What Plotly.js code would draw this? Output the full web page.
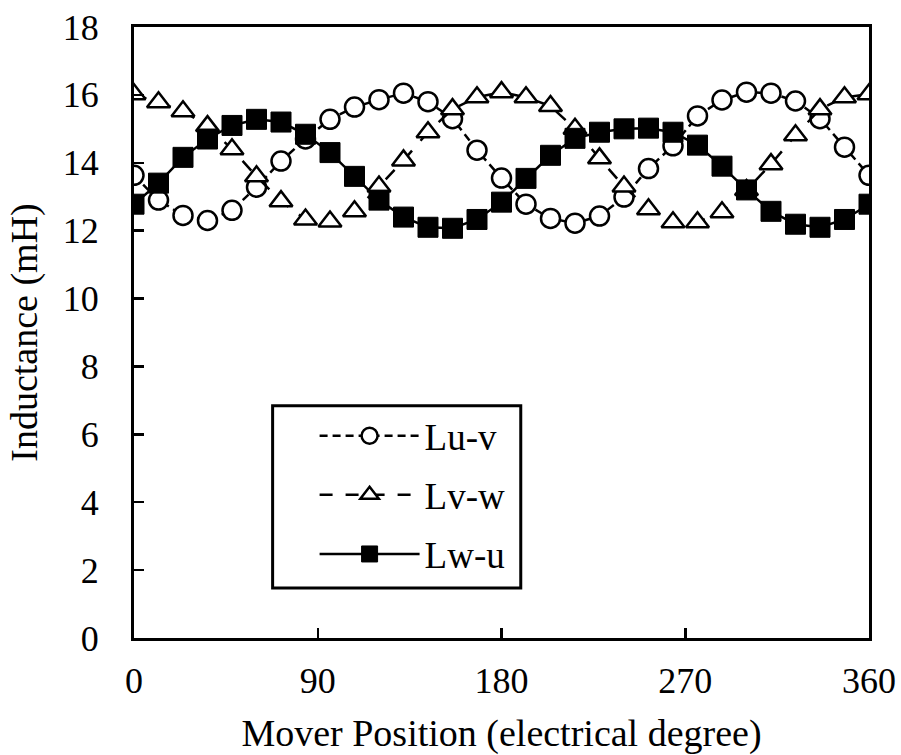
<!DOCTYPE html>
<html>
<head>
<meta charset="utf-8">
<script src="https://cdn.plot.ly/plotly-3.0.1.min.js"></script>
<style>html,body{margin:0;padding:0;background:#fff;}#chart{width:901px;height:755px;}</style>
</head>
<body>
<div id="chart"></div>
<script>
const position = [0,12,24,36,48,60,72,84,96,108,120,132,144,156,168,180,192,204,216,228,240,252,264,276,288,300,312,324,336,348,360];
const Luv = [13.63,12.9,12.45,12.3,12.6,13.28,14.05,14.7,15.28,15.64,15.86,16.05,15.8,15.3,14.37,13.55,12.78,12.36,12.22,12.43,12.99,13.83,14.5,15.38,15.85,16.08,16.05,15.82,15.3,14.46,13.63];
const Lvw = [16.02,15.78,15.52,15.08,14.4,13.6,12.87,12.33,12.27,12.57,13.3,14.07,14.9,15.58,15.93,16.08,15.93,15.67,15.0,14.13,13.3,12.63,12.25,12.25,12.54,13.2,13.96,14.81,15.58,15.93,16.02];
const Lwu = [12.78,13.4,14.16,14.7,15.1,15.28,15.2,14.84,14.3,13.6,12.9,12.4,12.1,12.07,12.33,12.84,13.54,14.22,14.72,14.9,15.0,15.02,14.9,14.52,13.9,13.2,12.57,12.19,12.1,12.33,12.78];
const seriesNames = ['Lu-v','Lv-w','Lw-u'];
const xTicks = [0,90,180,270,360];
const yTicks = [0,2,4,6,8,10,12,14,16,18];

const font = 'Liberation Serif, Times New Roman, serif';
const traces = [
  {x: position, y: Luv, name: seriesNames[0], legendgroup: 'a', mode: 'lines+markers',
   line: {color: '#000', width: 2.5, dash: '8px,5px'},
   marker: {symbol: 'circle', size: 19, color: '#fff', line: {color: '#000', width: 2.5}}},
  {x: position, y: Lvw, name: seriesNames[1], legendgroup: 'b', mode: 'lines+markers',
   line: {color: '#000', width: 2.5, dash: '13px,13px'},
   marker: {symbol: 'triangle-up', size: 20, color: '#fff', line: {color: '#000', width: 2.5}}},
  {x: position, y: Lwu, name: seriesNames[2], legendgroup: 'c', mode: 'lines+markers',
   line: {color: '#000', width: 2.5},
   marker: {symbol: 'square', size: 20, color: '#000', line: {color: '#000', width: 1}}}
];
const axisCommon = {
  showline: true, mirror: true, linecolor: '#000', linewidth: 3,
  ticks: 'inside', ticklen: 10, tickwidth: 2.5, tickcolor: '#000',
  showgrid: false, zeroline: false,
  tickfont: {family: font, size: 36, color: '#000'}
};
const layout = {
  width: 901, height: 755,
  margin: {l: 134, r: 32, t: 27, b: 117},
  paper_bgcolor: '#fff', plot_bgcolor: '#fff',
  font: {family: font, color: '#000'},
  showlegend: true,
  xaxis: Object.assign({}, axisCommon, {
    range: [0, 360], tickvals: xTicks, ticktext: xTicks.map(String),
    ticklabelstandoff: 9,
    title: {text: 'Mover Position (electrical degree)', font: {family: font, size: 38, color: '#000'}, standoff: 20}
  }),
  yaxis: Object.assign({}, axisCommon, {
    range: [0, 18], tickvals: yTicks, ticktext: yTicks.map(String),
    ticklabelstandoff: 25,
    title: {text: 'Inductance (mH)', font: {family: font, size: 38, color: '#000'}, standoff: 14}
  }),
  shapes: [{
    type: 'rect', xref: 'paper', yref: 'paper', layer: 'below',
    x0: 0.1886, x1: 0.5262, y0: 0.0819, y1: 0.380,
    line: {color: '#000', width: 3}, fillcolor: '#fff'
  }],
  legend: {
    x: 0.2457, y: 0.381, xanchor: 'left', yanchor: 'top',
    bgcolor: 'rgba(0,0,0,0)', borderwidth: 0,
    font: {family: font, size: 37, color: '#000'},
    itemwidth: 100, tracegroupgap: 8, traceorder: 'grouped'
  }
};
Plotly.newPlot('chart', traces, layout, {displayModeBar: false, staticPlot: true});
</script>
</body>
</html>
